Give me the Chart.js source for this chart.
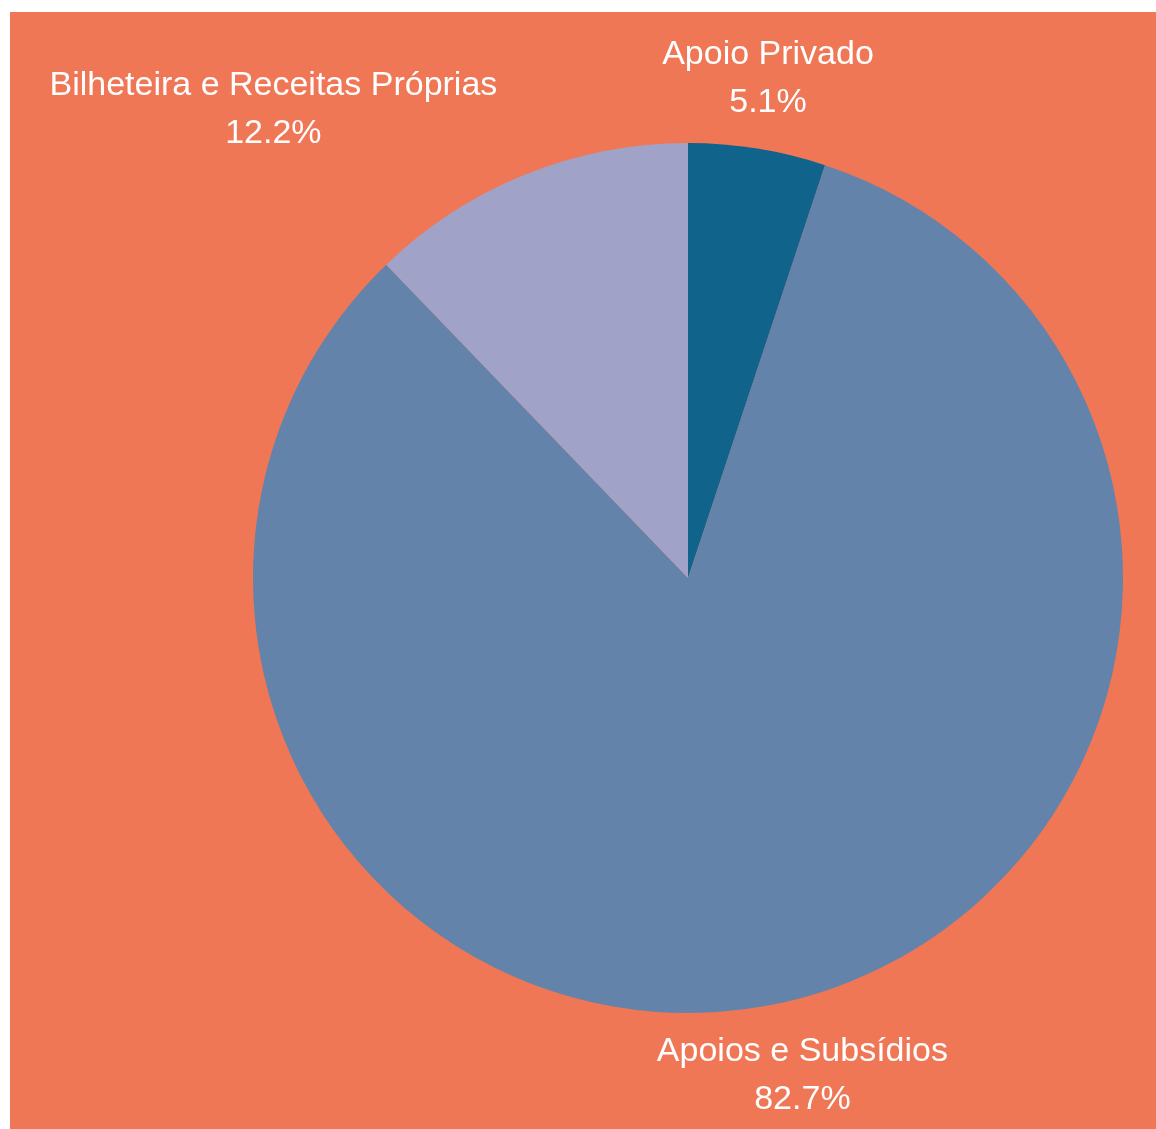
<!DOCTYPE html>
<html>
<head>
<meta charset="utf-8">
<script src="https://cdn.jsdelivr.net/npm/chart.js@4"></script>
<style>
  html, body { margin: 0; padding: 0; background: #ffffff; width: 1156px; height: 1129px; overflow: hidden; }
  #panel { position: absolute; left: 10px; top: 12px; width: 1146px; height: 1117px; background: #F07756; }
  canvas { display: block; }
</style>
</head>
<body>
<div id="panel"><canvas id="c" width="1146" height="1117"></canvas></div>
<script>
const categories = ["Apoio Privado", "Apoios e Subsídios", "Bilheteira e Receitas Próprias"];
const shares = [5.1, 82.7, 12.2];
const sliceColors = ["#10638A", "#6483AA", "#A0A3C7"];

const outsideLabels = {
  id: 'outsideLabels',
  afterDatasetsDraw(chart) {
    const ctx = chart.ctx;
    const meta = chart.getDatasetMeta(0);
    const data = chart.data.datasets[0].data;
    const total = data.reduce((a, b) => a + b, 0);
    const fontSize = 34, lineH = 48, gap = 24, padX = 28, padY = 19, baseAdj = 2;
    ctx.save();
    ctx.font = fontSize + 'px "Liberation Sans", Arial, sans-serif';
    ctx.fillStyle = '#ffffff';
    ctx.textBaseline = 'middle';
    ctx.textAlign = 'center';
    meta.data.forEach((arc, i) => {
      const mid = (arc.startAngle + arc.endAngle) / 2;
      const ux = Math.cos(mid), uy = Math.sin(mid);
      const lines = [chart.data.labels[i], (data[i] / total * 100).toFixed(1) + '%'];
      const w = Math.max(...lines.map(t => ctx.measureText(t).width));
      const halfW = w / 2, halfH = lineH;
      let cx, cy;
      if (Math.abs(ux) > 0.3) {
        // side label: box corner offset from the rim point
        const rx = arc.x + arc.outerRadius * ux, ry = arc.y + arc.outerRadius * uy;
        cx = rx + Math.sign(ux) * (padX + halfW);
        cy = ry + Math.sign(uy) * (padY + halfH);
      } else {
        const R = arc.outerRadius + gap;
        const ax = arc.x + R * ux, ay = arc.y + R * uy;
        cx = ax + halfW * ux * 0.4;
        cy = ay + (uy < 0 ? -halfH : halfH);
      }
      ctx.fillText(lines[0], cx, cy - lineH / 2 + baseAdj);
      ctx.fillText(lines[1], cx, cy + lineH / 2 + baseAdj);
    });
    ctx.restore();
  }
};

new Chart(document.getElementById('c'), {
  type: 'pie',
  data: {
    labels: categories,
    datasets: [{
      data: shares,
      backgroundColor: sliceColors,
      borderWidth: 0
    }]
  },
  options: {
    responsive: false,
    animation: false,
    layout: { padding: { left: 243, right: 33, top: 131, bottom: 116 } },
    plugins: { legend: { display: false }, tooltip: { enabled: false } }
  },
  plugins: [outsideLabels]
});
</script>
</body>
</html>
